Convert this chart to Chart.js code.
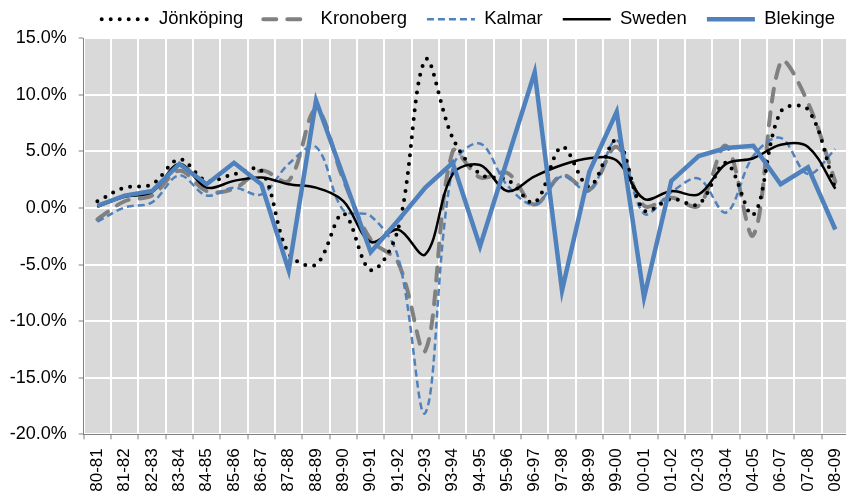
<!DOCTYPE html>
<html>
<head>
<meta charset="utf-8">
<script src="https://cdn.jsdelivr.net/npm/chart.js@4.4.1/dist/chart.umd.min.js"></script>
<style>
  html, body { margin: 0; padding: 0; background: #fff; overflow: hidden; }
  #wrap { position: relative; width: 850px; height: 493px; }
</style>
</head>
<body>
<div id="wrap"><canvas id="growthChart"></canvas></div>
<script>
// yearly change, percent
const periods = ['80-81', '81-82', '82-83', '83-84', '84-85', '85-86', '86-87', '87-88', '88-89', '89-90',
  '90-91', '91-92', '92-93', '93-94', '94-95', '95-96', '96-97', '97-98', '98-99', '99-00',
  '00-01', '01-02', '02-03', '03-04', '04-05', '06-07', '07-08', '08-09'];

const jonkoping = [0.6, 1.8, 2.1, 4.3, 2.4, 3.0, 3.3, -4.0, -5.0, -0.5, -5.5, -1.9, 13.1, 6.2, 3.0, 2.5, 0.5, 5.4, 1.9, 6.0,
  -0.2, 0.8, 0.35, 4.0, -0.6, 8.5, 8.7, 1.7];
const kronoberg = [-1.0, 0.6, 1.1, 3.3, 1.5, 1.7, 3.3, 2.4, 8.7, 2.5, -2.8, -4.8, -12.6, 5.0, 2.7, 3.1, 0.3, 2.9, 1.6, 5.4,
  0.2, 0.9, 0.2, 5.5, -2.4, 12.9, 9.3, 2.3];
const kalmar = [-1.2, 0.05, 0.5, 2.9, 1.1, 1.8, 1.2, 3.9, 5.4, -0.2, -0.7, -4.3, -18.1, 3.6, 5.7, 2.0, 0.3, 2.8, 1.5, 6.0,
  -0.5, 1.4, 2.6, -0.4, 4.6, 6.2, 3.0, 5.2];
const sweden = [0.1, 1.0, 1.4, 3.9, 1.8, 2.4, 2.7, 2.1, 1.8, 0.6, -3.0, -1.9, -4.1, 3.0, 3.8, 1.5, 2.8, 3.8, 4.4, 4.2,
  0.8, 1.5, 1.2, 3.9, 4.4, 5.6, 5.4, 1.7];
const blekinge = [0.2, 1.1, 1.5, 3.9, 2.1, 4.0, 2.1, -5.5, 9.5, 2.8, -3.9, -1.1, 1.8, 4.0, -3.4, 4.3, 12.0, -7.3, 3.2, 8.5,
  -7.9, 2.4, 4.6, 5.3, 5.5, 2.1, 3.6, -1.9];

const yTickValues = [-20, -15, -10, -5, 0, 5, 10, 15];

Chart.defaults.font.family = "'Liberation Sans', Arial, sans-serif";
Chart.defaults.font.size = 18;
Chart.defaults.color = '#000';

// grey plot area like the Excel original
const plotBackground = {
  id: 'plotBackground',
  beforeDraw(chart) {
    const { ctx, chartArea: a } = chart;
    ctx.save();
    ctx.fillStyle = '#d9d9d9';
    ctx.fillRect(a.left, a.top, a.right - a.left, a.bottom - a.top);
    ctx.restore();
  }
};

// fixed legend height, wider gaps between items than above/below them
const legendFit = {
  id: 'legendFit',
  beforeInit(chart) {
    const fit = chart.legend.fit;
    chart.legend.fit = function () {
      fit.call(this);
      this.height = 38.3;
    };
  },
  afterLayout(chart) {
    chart.legend.top -= 10;
    chart.legend.left = chart.chartArea.left - 2;
    chart.legend.right = chart.legend.left + 820; // keep all five items on one row
  }
};

// legend samples drawn with each dataset's own dash pattern
const legendItems = (chart) => chart.data.datasets.map((ds, i) => ({
  text: ds.label,
  datasetIndex: i,
  strokeStyle: ds.borderColor,
  fillStyle: ds.borderColor,
  fontColor: '#000',
  lineWidth: ds.borderWidth,
  lineDash: ds.borderDash || [],
  lineCap: ds.borderCapStyle || 'butt',
  pointStyle: 'line',
  hidden: false
}));

const smooth = 0.35;

new Chart(document.getElementById('growthChart'), {
  type: 'line',
  data: {
    labels: periods,
    datasets: [
      {
        label: 'Jönköping', data: jonkoping, order: 2,
        borderColor: '#000', borderWidth: 4, borderDash: [0, 9], borderCapStyle: 'round',
        tension: smooth
      },
      {
        label: 'Kronoberg', data: kronoberg, order: 4,
        borderColor: '#808080', borderWidth: 4, borderDash: [13, 11], borderCapStyle: 'round',
        tension: smooth
      },
      {
        label: 'Kalmar', data: kalmar, order: 3,
        borderColor: '#4f81bd', borderWidth: 2.5, borderDash: [7, 4],
        tension: smooth
      },
      {
        label: 'Sweden', data: sweden, order: 1,
        borderColor: '#000', borderWidth: 2.5,
        tension: smooth
      },
      {
        label: 'Blekinge', data: blekinge, order: 0,
        borderColor: '#4f81bd', borderWidth: 4.5,
        tension: 0
      }
    ]
  },
  options: {
    responsive: true,
    maintainAspectRatio: false,
    animation: false,
    layout: { padding: { right: 1 } },
    elements: { point: { radius: 0, hoverRadius: 0 } },
    plugins: {
      tooltip: { enabled: false },
      legend: {
        position: 'top',
        align: 'start',
        labels: {
          usePointStyle: true,
          pointStyleWidth: 48,
          padding: 20,
          color: '#000',
          font: { size: 18.5 },
          generateLabels: legendItems
        }
      }
    },
    scales: {
      x: {
        offset: true,
        grid: { offset: true, color: '#fff', lineWidth: 2, tickLength: 5, tickColor: '#808080', tickWidth: 1 },
        border: { display: true, color: '#808080', width: 1 },
        ticks: { minRotation: 90, maxRotation: 90, padding: 9, autoSkip: false, font: { size: 17 } },
        afterFit: (scale) => {
          scale.height = 58.7;
          scale.paddingLeft = 0;
          scale.paddingRight = 0;
        }
      },
      y: {
        min: -20,
        max: 15,
        afterBuildTicks: (scale) => { scale.ticks = yTickValues.map(v => ({ value: v })); },
        grid: { color: '#fff', lineWidth: 2, tickLength: 5, tickColor: '#808080', tickWidth: 1 },
        border: { display: true, color: '#808080', width: 1 },
        ticks: { padding: 12, callback: (v) => v.toFixed(1) + '%' },
        afterFit: (scale) => { scale.width = 83.7; }
      }
    }
  },
  plugins: [plotBackground, legendFit]
});
</script>
</body>
</html>
